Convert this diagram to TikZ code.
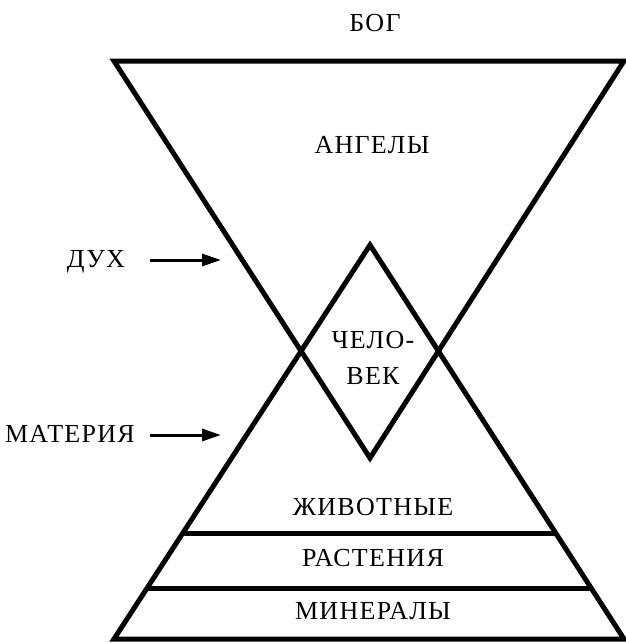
\documentclass[tikz,border=0pt]{standalone}
\usepackage{fontspec}
\setmainfont{Liberation Serif}
\usetikzlibrary{arrows.meta, calc}

\tikzset{
  edge/.style={line width=5pt},
  pointer/.style={line width=3pt, -{Triangle[length=19pt, width=12pt]}},
  caption/.style={font=\fontsize{26}{30}\selectfont\addfontfeature{LetterSpace=5}, inner sep=0pt},
}

\begin{document}
\begin{tikzpicture}[x=1pt, y=-1pt]
  \useasboundingbox (0,0) rectangle (626,643);

  % spirit: inverted triangle
  \coordinate (topl) at (114,61);
  \coordinate (topr) at (624,61);
  \coordinate (down) at (370,458);
  % matter: upright triangle
  \coordinate (up) at (370,245);
  \coordinate (botl) at (114,639);
  \coordinate (botr) at (624,639);

  \draw[edge] (topl) -- (topr) -- (down) -- cycle;
  \draw[edge] (up) -- (botr) -- (botl) -- cycle;

  % layers of the lower triangle
  \coordinate (animl) at ($(up)!{288/394}!(botl)$);
  \coordinate (animr) at ($(up)!{288/394}!(botr)$);
  \coordinate (plantl) at ($(up)!{343/394}!(botl)$);
  \coordinate (plantr) at ($(up)!{343/394}!(botr)$);
  \draw[edge] (animl) -- (animr);
  \draw[edge] (plantl) -- (plantr);

  \node[caption] (god) at (375,23) {БОГ};
  \node[caption] (angels) at (372,145) {АНГЕЛЫ};
  \node[caption] (man1) at (373,340) {ЧЕЛО-};
  \node[caption] (man2) at (373,376) {ВЕК};
  \node[caption] (animals) at (373,507) {ЖИВОТНЫЕ};
  \node[caption] (plants) at (373,558) {РАСТЕНИЯ};
  \node[caption] (minerals) at (373,611) {МИНЕРАЛЫ};

  \node[caption, anchor=east] (spirit) at (125,262) {ДУХ};
  \node[caption, anchor=east] (matter) at (135,434) {МАТЕРИЯ};
  \coordinate (spiritfrom) at (150,260);
  \coordinate (spiritto) at (221,260);
  \coordinate (matterfrom) at (150,435);
  \coordinate (matterto) at (221,435);
  \draw[pointer] (spiritfrom) -- (spiritto);
  \draw[pointer] (matterfrom) -- (matterto);
\end{tikzpicture}
\end{document}
